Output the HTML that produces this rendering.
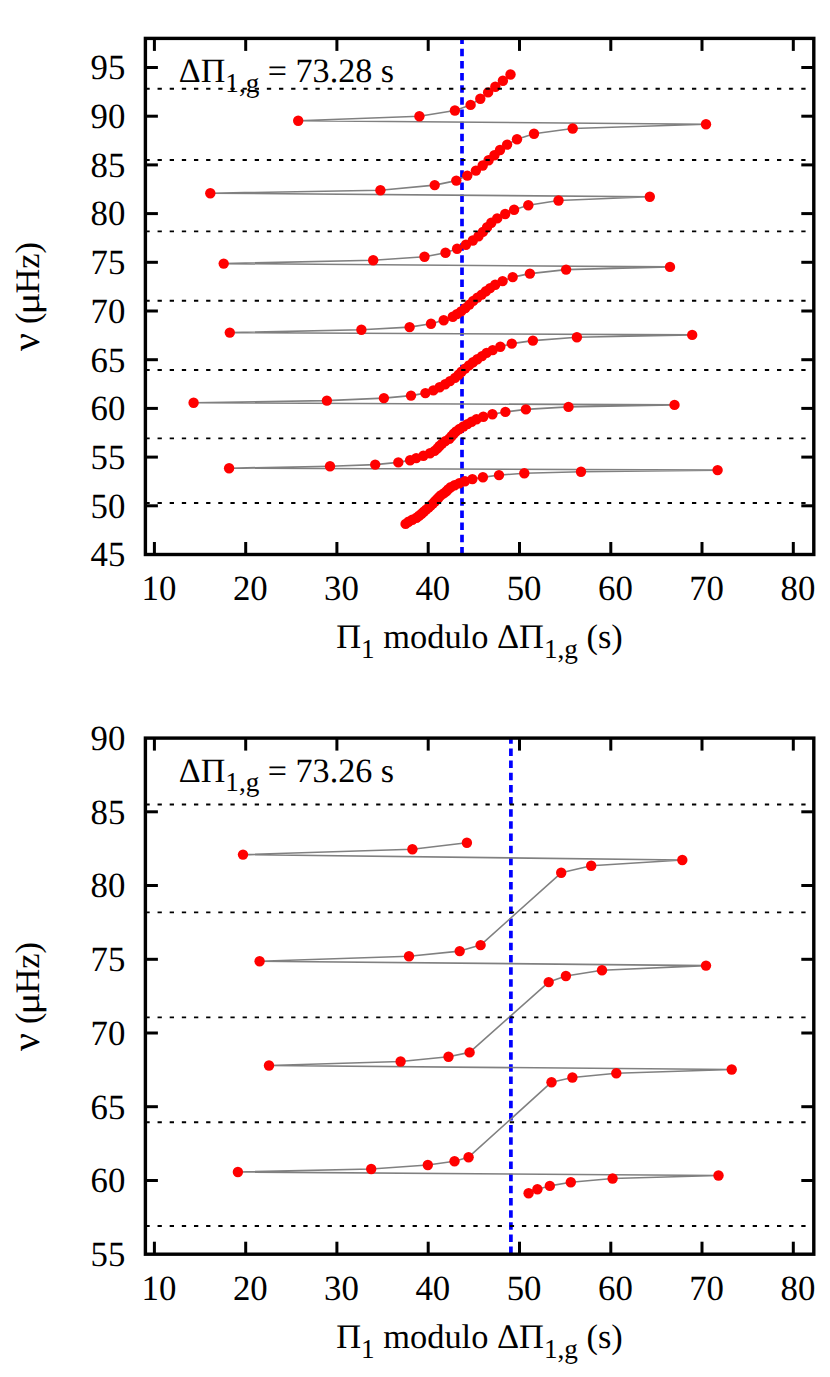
<!DOCTYPE html>
<html><head><meta charset="utf-8"><title>Period echelle diagrams</title>
<style>
html,body{margin:0;padding:0;background:#fff;}
body{width:830px;height:1377px;overflow:hidden;font-family:"Liberation Serif",serif;}
svg{display:block;}
text{font-family:"Liberation Serif",serif;fill:#000;text-rendering:geometricPrecision;}
.t{font-size:34.4px;}
.sub{font-size:27.2px;}
.k{font-size:34.8px;}
</style></head><body>
<svg width="830" height="1377" viewBox="0 0 830 1377">
<rect width="830" height="1377" fill="#fff"/>

<line x1="462.0" y1="38.4" x2="462.0" y2="554.5" stroke="#0000ff" stroke-width="3.7" stroke-dasharray="7.5 4.65" stroke-dashoffset="1.8"/>
<path d="M510.5,74.5 L502.9,80.8 L495.3,86.7 L488.1,92.4 L480.3,98.7 L470.6,104.9 L454.9,110.5 L419.4,116.2 L298.2,120.7 L706.0,124.2 L572.7,128.5 L534.0,133.8 L517.0,139.3 L507.1,144.6 L500.0,150.0 L494.4,155.2 L488.6,160.3 L482.7,165.5 L475.9,170.6 L467.3,175.6 L456.3,180.6 L434.7,185.1 L380.4,190.2 L210.3,193.2 L649.8,196.8 L558.5,200.5 L528.3,205.2 L514.1,209.8 L505.2,214.0 L497.2,218.4 L491.3,222.8 L487.1,227.2 L482.9,231.9 L478.5,236.3 L472.8,240.5 L465.9,244.8 L457.1,248.8 L445.5,252.8 L424.5,256.8 L373.2,260.2 L223.7,263.6 L670.0,266.9 L566.1,269.6 L529.9,273.6 L512.7,277.1 L502.6,281.1 L495.2,284.8 L490.1,288.1 L485.9,291.3 L481.7,294.6 L477.4,297.6 L473.2,300.9 L469.3,304.6 L465.3,308.1 L461.1,311.4 L456.9,314.1 L452.8,316.8 L443.7,320.2 L431.0,323.8 L409.6,327.1 L361.4,329.8 L229.8,332.6 L692.2,334.9 L576.9,337.3 L532.9,340.6 L511.8,343.6 L500.3,346.8 L492.7,350.1 L486.6,352.9 L482.0,356.1 L477.3,359.2 L473.0,362.3 L469.0,365.4 L465.1,368.6 L461.5,371.7 L458.6,374.8 L455.0,377.9 L450.0,381.1 L445.2,384.2 L439.6,387.3 L433.3,390.4 L425.4,393.1 L411.0,395.6 L383.9,398.1 L326.9,400.6 L193.6,402.8 L674.5,404.9 L568.5,406.9 L525.9,409.4 L505.4,411.9 L492.4,414.2 L483.3,416.8 L476.5,419.2 L471.6,421.7 L467.4,424.1 L463.4,426.5 L459.5,429.0 L456.1,431.4 L453.7,433.8 L451.5,436.3 L449.3,438.7 L445.3,441.1 L442.1,443.6 L439.5,446.0 L437.4,448.4 L434.6,450.9 L430.0,453.3 L423.4,455.7 L416.2,458.1 L410.1,460.3 L398.3,462.4 L375.2,464.6 L330.0,466.2 L229.1,468.2 L717.6,470.1 L581.0,471.8 L524.3,473.3 L499.0,475.1 L482.9,477.2 L472.4,479.1 L464.9,481.2 L459.3,483.3 L454.6,485.3 L450.7,487.3 L448.1,489.4 L446.3,491.4 L443.7,493.4 L440.7,495.4 L438.7,497.5 L436.8,499.5 L434.8,501.5 L432.8,503.6 L430.7,505.6 L428.5,507.6 L426.1,509.6 L423.8,511.7 L421.6,513.7 L419.1,515.7 L416.5,517.8 L412.3,519.8 L408.5,521.8 L405.6,523.9" fill="none" stroke="#808080" stroke-width="1.6" stroke-linejoin="round"/>
<circle cx="510.5" cy="74.5" r="5.2" fill="#ff0000"/>
<circle cx="502.9" cy="80.8" r="5.2" fill="#ff0000"/>
<circle cx="495.3" cy="86.7" r="5.2" fill="#ff0000"/>
<circle cx="488.1" cy="92.4" r="5.2" fill="#ff0000"/>
<circle cx="480.3" cy="98.7" r="5.2" fill="#ff0000"/>
<circle cx="470.6" cy="104.9" r="5.2" fill="#ff0000"/>
<circle cx="454.9" cy="110.5" r="5.2" fill="#ff0000"/>
<circle cx="419.4" cy="116.2" r="5.2" fill="#ff0000"/>
<circle cx="298.2" cy="120.7" r="5.2" fill="#ff0000"/>
<circle cx="706.0" cy="124.2" r="5.2" fill="#ff0000"/>
<circle cx="572.7" cy="128.5" r="5.2" fill="#ff0000"/>
<circle cx="534.0" cy="133.8" r="5.2" fill="#ff0000"/>
<circle cx="517.0" cy="139.3" r="5.2" fill="#ff0000"/>
<circle cx="507.1" cy="144.6" r="5.2" fill="#ff0000"/>
<circle cx="500.0" cy="150.0" r="5.2" fill="#ff0000"/>
<circle cx="494.4" cy="155.2" r="5.2" fill="#ff0000"/>
<circle cx="488.6" cy="160.3" r="5.2" fill="#ff0000"/>
<circle cx="482.7" cy="165.5" r="5.2" fill="#ff0000"/>
<circle cx="475.9" cy="170.6" r="5.2" fill="#ff0000"/>
<circle cx="467.3" cy="175.6" r="5.2" fill="#ff0000"/>
<circle cx="456.3" cy="180.6" r="5.2" fill="#ff0000"/>
<circle cx="434.7" cy="185.1" r="5.2" fill="#ff0000"/>
<circle cx="380.4" cy="190.2" r="5.2" fill="#ff0000"/>
<circle cx="210.3" cy="193.2" r="5.2" fill="#ff0000"/>
<circle cx="649.8" cy="196.8" r="5.2" fill="#ff0000"/>
<circle cx="558.5" cy="200.5" r="5.2" fill="#ff0000"/>
<circle cx="528.3" cy="205.2" r="5.2" fill="#ff0000"/>
<circle cx="514.1" cy="209.8" r="5.2" fill="#ff0000"/>
<circle cx="505.2" cy="214.0" r="5.2" fill="#ff0000"/>
<circle cx="497.2" cy="218.4" r="5.2" fill="#ff0000"/>
<circle cx="491.3" cy="222.8" r="5.2" fill="#ff0000"/>
<circle cx="487.1" cy="227.2" r="5.2" fill="#ff0000"/>
<circle cx="482.9" cy="231.9" r="5.2" fill="#ff0000"/>
<circle cx="478.5" cy="236.3" r="5.2" fill="#ff0000"/>
<circle cx="472.8" cy="240.5" r="5.2" fill="#ff0000"/>
<circle cx="465.9" cy="244.8" r="5.2" fill="#ff0000"/>
<circle cx="457.1" cy="248.8" r="5.2" fill="#ff0000"/>
<circle cx="445.5" cy="252.8" r="5.2" fill="#ff0000"/>
<circle cx="424.5" cy="256.8" r="5.2" fill="#ff0000"/>
<circle cx="373.2" cy="260.2" r="5.2" fill="#ff0000"/>
<circle cx="223.7" cy="263.6" r="5.2" fill="#ff0000"/>
<circle cx="670.0" cy="266.9" r="5.2" fill="#ff0000"/>
<circle cx="566.1" cy="269.6" r="5.2" fill="#ff0000"/>
<circle cx="529.9" cy="273.6" r="5.2" fill="#ff0000"/>
<circle cx="512.7" cy="277.1" r="5.2" fill="#ff0000"/>
<circle cx="502.6" cy="281.1" r="5.2" fill="#ff0000"/>
<circle cx="495.2" cy="284.8" r="5.2" fill="#ff0000"/>
<circle cx="490.1" cy="288.1" r="5.2" fill="#ff0000"/>
<circle cx="485.9" cy="291.3" r="5.2" fill="#ff0000"/>
<circle cx="481.7" cy="294.6" r="5.2" fill="#ff0000"/>
<circle cx="477.4" cy="297.6" r="5.2" fill="#ff0000"/>
<circle cx="473.2" cy="300.9" r="5.2" fill="#ff0000"/>
<circle cx="469.3" cy="304.6" r="5.2" fill="#ff0000"/>
<circle cx="465.3" cy="308.1" r="5.2" fill="#ff0000"/>
<circle cx="461.1" cy="311.4" r="5.2" fill="#ff0000"/>
<circle cx="456.9" cy="314.1" r="5.2" fill="#ff0000"/>
<circle cx="452.8" cy="316.8" r="5.2" fill="#ff0000"/>
<circle cx="443.7" cy="320.2" r="5.2" fill="#ff0000"/>
<circle cx="431.0" cy="323.8" r="5.2" fill="#ff0000"/>
<circle cx="409.6" cy="327.1" r="5.2" fill="#ff0000"/>
<circle cx="361.4" cy="329.8" r="5.2" fill="#ff0000"/>
<circle cx="229.8" cy="332.6" r="5.2" fill="#ff0000"/>
<circle cx="692.2" cy="334.9" r="5.2" fill="#ff0000"/>
<circle cx="576.9" cy="337.3" r="5.2" fill="#ff0000"/>
<circle cx="532.9" cy="340.6" r="5.2" fill="#ff0000"/>
<circle cx="511.8" cy="343.6" r="5.2" fill="#ff0000"/>
<circle cx="500.3" cy="346.8" r="5.2" fill="#ff0000"/>
<circle cx="492.7" cy="350.1" r="5.2" fill="#ff0000"/>
<circle cx="486.6" cy="352.9" r="5.2" fill="#ff0000"/>
<circle cx="482.0" cy="356.1" r="5.2" fill="#ff0000"/>
<circle cx="477.3" cy="359.2" r="5.2" fill="#ff0000"/>
<circle cx="473.0" cy="362.3" r="5.2" fill="#ff0000"/>
<circle cx="469.0" cy="365.4" r="5.2" fill="#ff0000"/>
<circle cx="465.1" cy="368.6" r="5.2" fill="#ff0000"/>
<circle cx="461.5" cy="371.7" r="5.2" fill="#ff0000"/>
<circle cx="458.6" cy="374.8" r="5.2" fill="#ff0000"/>
<circle cx="455.0" cy="377.9" r="5.2" fill="#ff0000"/>
<circle cx="450.0" cy="381.1" r="5.2" fill="#ff0000"/>
<circle cx="445.2" cy="384.2" r="5.2" fill="#ff0000"/>
<circle cx="439.6" cy="387.3" r="5.2" fill="#ff0000"/>
<circle cx="433.3" cy="390.4" r="5.2" fill="#ff0000"/>
<circle cx="425.4" cy="393.1" r="5.2" fill="#ff0000"/>
<circle cx="411.0" cy="395.6" r="5.2" fill="#ff0000"/>
<circle cx="383.9" cy="398.1" r="5.2" fill="#ff0000"/>
<circle cx="326.9" cy="400.6" r="5.2" fill="#ff0000"/>
<circle cx="193.6" cy="402.8" r="5.2" fill="#ff0000"/>
<circle cx="674.5" cy="404.9" r="5.2" fill="#ff0000"/>
<circle cx="568.5" cy="406.9" r="5.2" fill="#ff0000"/>
<circle cx="525.9" cy="409.4" r="5.2" fill="#ff0000"/>
<circle cx="505.4" cy="411.9" r="5.2" fill="#ff0000"/>
<circle cx="492.4" cy="414.2" r="5.2" fill="#ff0000"/>
<circle cx="483.3" cy="416.8" r="5.2" fill="#ff0000"/>
<circle cx="476.5" cy="419.2" r="5.2" fill="#ff0000"/>
<circle cx="471.6" cy="421.7" r="5.2" fill="#ff0000"/>
<circle cx="467.4" cy="424.1" r="5.2" fill="#ff0000"/>
<circle cx="463.4" cy="426.5" r="5.2" fill="#ff0000"/>
<circle cx="459.5" cy="429.0" r="5.2" fill="#ff0000"/>
<circle cx="456.1" cy="431.4" r="5.2" fill="#ff0000"/>
<circle cx="453.7" cy="433.8" r="5.2" fill="#ff0000"/>
<circle cx="451.5" cy="436.3" r="5.2" fill="#ff0000"/>
<circle cx="449.3" cy="438.7" r="5.2" fill="#ff0000"/>
<circle cx="445.3" cy="441.1" r="5.2" fill="#ff0000"/>
<circle cx="442.1" cy="443.6" r="5.2" fill="#ff0000"/>
<circle cx="439.5" cy="446.0" r="5.2" fill="#ff0000"/>
<circle cx="437.4" cy="448.4" r="5.2" fill="#ff0000"/>
<circle cx="434.6" cy="450.9" r="5.2" fill="#ff0000"/>
<circle cx="430.0" cy="453.3" r="5.2" fill="#ff0000"/>
<circle cx="423.4" cy="455.7" r="5.2" fill="#ff0000"/>
<circle cx="416.2" cy="458.1" r="5.2" fill="#ff0000"/>
<circle cx="410.1" cy="460.3" r="5.2" fill="#ff0000"/>
<circle cx="398.3" cy="462.4" r="5.2" fill="#ff0000"/>
<circle cx="375.2" cy="464.6" r="5.2" fill="#ff0000"/>
<circle cx="330.0" cy="466.2" r="5.2" fill="#ff0000"/>
<circle cx="229.1" cy="468.2" r="5.2" fill="#ff0000"/>
<circle cx="717.6" cy="470.1" r="5.2" fill="#ff0000"/>
<circle cx="581.0" cy="471.8" r="5.2" fill="#ff0000"/>
<circle cx="524.3" cy="473.3" r="5.2" fill="#ff0000"/>
<circle cx="499.0" cy="475.1" r="5.2" fill="#ff0000"/>
<circle cx="482.9" cy="477.2" r="5.2" fill="#ff0000"/>
<circle cx="472.4" cy="479.1" r="5.2" fill="#ff0000"/>
<circle cx="464.9" cy="481.2" r="5.2" fill="#ff0000"/>
<circle cx="459.3" cy="483.3" r="5.2" fill="#ff0000"/>
<circle cx="454.6" cy="485.3" r="5.2" fill="#ff0000"/>
<circle cx="450.7" cy="487.3" r="5.2" fill="#ff0000"/>
<circle cx="448.1" cy="489.4" r="5.2" fill="#ff0000"/>
<circle cx="446.3" cy="491.4" r="5.2" fill="#ff0000"/>
<circle cx="443.7" cy="493.4" r="5.2" fill="#ff0000"/>
<circle cx="440.7" cy="495.4" r="5.2" fill="#ff0000"/>
<circle cx="438.7" cy="497.5" r="5.2" fill="#ff0000"/>
<circle cx="436.8" cy="499.5" r="5.2" fill="#ff0000"/>
<circle cx="434.8" cy="501.5" r="5.2" fill="#ff0000"/>
<circle cx="432.8" cy="503.6" r="5.2" fill="#ff0000"/>
<circle cx="430.7" cy="505.6" r="5.2" fill="#ff0000"/>
<circle cx="428.5" cy="507.6" r="5.2" fill="#ff0000"/>
<circle cx="426.1" cy="509.6" r="5.2" fill="#ff0000"/>
<circle cx="423.8" cy="511.7" r="5.2" fill="#ff0000"/>
<circle cx="421.6" cy="513.7" r="5.2" fill="#ff0000"/>
<circle cx="419.1" cy="515.7" r="5.2" fill="#ff0000"/>
<circle cx="416.5" cy="517.8" r="5.2" fill="#ff0000"/>
<circle cx="412.3" cy="519.8" r="5.2" fill="#ff0000"/>
<circle cx="408.5" cy="521.8" r="5.2" fill="#ff0000"/>
<circle cx="405.6" cy="523.9" r="5.2" fill="#ff0000"/>
<line x1="145.4" y1="88.8" x2="813.8" y2="88.8" stroke="#000" stroke-width="1.9" stroke-dasharray="4.3 7.846"/>
<line x1="145.4" y1="160.0" x2="813.8" y2="160.0" stroke="#000" stroke-width="1.9" stroke-dasharray="4.3 7.846"/>
<line x1="145.4" y1="231.4" x2="813.8" y2="231.4" stroke="#000" stroke-width="1.9" stroke-dasharray="4.3 7.846"/>
<line x1="145.4" y1="300.8" x2="813.8" y2="300.8" stroke="#000" stroke-width="1.9" stroke-dasharray="4.3 7.846"/>
<line x1="145.4" y1="370.0" x2="813.8" y2="370.0" stroke="#000" stroke-width="1.9" stroke-dasharray="4.3 7.846"/>
<line x1="145.4" y1="438.4" x2="813.8" y2="438.4" stroke="#000" stroke-width="1.9" stroke-dasharray="4.3 7.846"/>
<line x1="145.4" y1="503.0" x2="813.8" y2="503.0" stroke="#000" stroke-width="1.9" stroke-dasharray="4.3 7.846"/>
<line x1="154.4" y1="38.4" x2="154.4" y2="50.9" stroke="#000" stroke-width="3.0"/>
<line x1="154.4" y1="554.5" x2="154.4" y2="542.0" stroke="#000" stroke-width="3.0"/>
<text class="k" transform="translate(159.0,600.3) scale(1,1.02)" text-anchor="middle">10</text>
<line x1="245.7" y1="38.4" x2="245.7" y2="50.9" stroke="#000" stroke-width="3.0"/>
<line x1="245.7" y1="554.5" x2="245.7" y2="542.0" stroke="#000" stroke-width="3.0"/>
<text class="k" transform="translate(250.3,600.3) scale(1,1.02)" text-anchor="middle">20</text>
<line x1="336.9" y1="38.4" x2="336.9" y2="50.9" stroke="#000" stroke-width="3.0"/>
<line x1="336.9" y1="554.5" x2="336.9" y2="542.0" stroke="#000" stroke-width="3.0"/>
<text class="k" transform="translate(341.5,600.3) scale(1,1.02)" text-anchor="middle">30</text>
<line x1="428.2" y1="38.4" x2="428.2" y2="50.9" stroke="#000" stroke-width="3.0"/>
<line x1="428.2" y1="554.5" x2="428.2" y2="542.0" stroke="#000" stroke-width="3.0"/>
<text class="k" transform="translate(432.8,600.3) scale(1,1.02)" text-anchor="middle">40</text>
<line x1="519.5" y1="38.4" x2="519.5" y2="50.9" stroke="#000" stroke-width="3.0"/>
<line x1="519.5" y1="554.5" x2="519.5" y2="542.0" stroke="#000" stroke-width="3.0"/>
<text class="k" transform="translate(524.1,600.3) scale(1,1.02)" text-anchor="middle">50</text>
<line x1="610.8" y1="38.4" x2="610.8" y2="50.9" stroke="#000" stroke-width="3.0"/>
<line x1="610.8" y1="554.5" x2="610.8" y2="542.0" stroke="#000" stroke-width="3.0"/>
<text class="k" transform="translate(615.4,600.3) scale(1,1.02)" text-anchor="middle">60</text>
<line x1="702.0" y1="38.4" x2="702.0" y2="50.9" stroke="#000" stroke-width="3.0"/>
<line x1="702.0" y1="554.5" x2="702.0" y2="542.0" stroke="#000" stroke-width="3.0"/>
<text class="k" transform="translate(706.6,600.3) scale(1,1.02)" text-anchor="middle">70</text>
<line x1="793.3" y1="38.4" x2="793.3" y2="50.9" stroke="#000" stroke-width="3.0"/>
<line x1="793.3" y1="554.5" x2="793.3" y2="542.0" stroke="#000" stroke-width="3.0"/>
<text class="k" transform="translate(797.9,600.3) scale(1,1.02)" text-anchor="middle">80</text>
<text class="k" transform="translate(125.4,566.3) scale(1,1.02)" text-anchor="end">45</text>
<line x1="145.4" y1="505.8" x2="157.9" y2="505.8" stroke="#000" stroke-width="3.0"/>
<line x1="813.8" y1="505.8" x2="801.3" y2="505.8" stroke="#000" stroke-width="3.0"/>
<text class="k" transform="translate(125.4,517.6) scale(1,1.02)" text-anchor="end">50</text>
<line x1="145.4" y1="457.1" x2="157.9" y2="457.1" stroke="#000" stroke-width="3.0"/>
<line x1="813.8" y1="457.1" x2="801.3" y2="457.1" stroke="#000" stroke-width="3.0"/>
<text class="k" transform="translate(125.4,468.9) scale(1,1.02)" text-anchor="end">55</text>
<line x1="145.4" y1="408.4" x2="157.9" y2="408.4" stroke="#000" stroke-width="3.0"/>
<line x1="813.8" y1="408.4" x2="801.3" y2="408.4" stroke="#000" stroke-width="3.0"/>
<text class="k" transform="translate(125.4,420.2) scale(1,1.02)" text-anchor="end">60</text>
<line x1="145.4" y1="359.7" x2="157.9" y2="359.7" stroke="#000" stroke-width="3.0"/>
<line x1="813.8" y1="359.7" x2="801.3" y2="359.7" stroke="#000" stroke-width="3.0"/>
<text class="k" transform="translate(125.4,371.5) scale(1,1.02)" text-anchor="end">65</text>
<line x1="145.4" y1="311.0" x2="157.9" y2="311.0" stroke="#000" stroke-width="3.0"/>
<line x1="813.8" y1="311.0" x2="801.3" y2="311.0" stroke="#000" stroke-width="3.0"/>
<text class="k" transform="translate(125.4,322.8) scale(1,1.02)" text-anchor="end">70</text>
<line x1="145.4" y1="262.3" x2="157.9" y2="262.3" stroke="#000" stroke-width="3.0"/>
<line x1="813.8" y1="262.3" x2="801.3" y2="262.3" stroke="#000" stroke-width="3.0"/>
<text class="k" transform="translate(125.4,274.1) scale(1,1.02)" text-anchor="end">75</text>
<line x1="145.4" y1="213.6" x2="157.9" y2="213.6" stroke="#000" stroke-width="3.0"/>
<line x1="813.8" y1="213.6" x2="801.3" y2="213.6" stroke="#000" stroke-width="3.0"/>
<text class="k" transform="translate(125.4,225.4) scale(1,1.02)" text-anchor="end">80</text>
<line x1="145.4" y1="164.9" x2="157.9" y2="164.9" stroke="#000" stroke-width="3.0"/>
<line x1="813.8" y1="164.9" x2="801.3" y2="164.9" stroke="#000" stroke-width="3.0"/>
<text class="k" transform="translate(125.4,176.7) scale(1,1.02)" text-anchor="end">85</text>
<line x1="145.4" y1="116.2" x2="157.9" y2="116.2" stroke="#000" stroke-width="3.0"/>
<line x1="813.8" y1="116.2" x2="801.3" y2="116.2" stroke="#000" stroke-width="3.0"/>
<text class="k" transform="translate(125.4,128.0) scale(1,1.02)" text-anchor="end">90</text>
<line x1="145.4" y1="67.5" x2="157.9" y2="67.5" stroke="#000" stroke-width="3.0"/>
<line x1="813.8" y1="67.5" x2="801.3" y2="67.5" stroke="#000" stroke-width="3.0"/>
<text class="k" transform="translate(125.4,79.3) scale(1,1.02)" text-anchor="end">95</text>
<rect x="145.4" y="38.4" width="668.4" height="516.1" fill="none" stroke="#000" stroke-width="3.4"/>
<text class="t" style="font-size:34.1px" x="178.8" y="82.0">ΔΠ<tspan class="sub" dy="9.5">1,g</tspan><tspan dy="-9.5"> = 73.28 s</tspan></text>
<text class="t" x="479.5" y="648" text-anchor="middle">Π<tspan class="sub" dy="9.5">1</tspan><tspan dy="-9.5"> modulo ΔΠ</tspan><tspan class="sub" dy="9.5">1,g</tspan><tspan dy="-9.5"> (s)</tspan></text>
<g transform="translate(38.7,351) rotate(-90)"><text x="0" y="0" style="font-size:39.5px">ν</text><text class="t" x="26.9" y="0">(</text><text class="t" transform="translate(36.2,0) scale(1.22,1)">μ</text><text class="t" x="57.4" y="0">Hz)</text></g>
<line x1="510.9" y1="738.1" x2="510.9" y2="1254.2" stroke="#0000ff" stroke-width="3.7" stroke-dasharray="7.5 4.65" stroke-dashoffset="1.8"/>
<path d="M466.9,842.8 L412.4,849.2 L243.0,854.6 L682.3,860.0 L591.2,865.7 L561.2,872.8 L480.6,945.1 L459.7,951.1 L409.0,956.2 L259.6,961.2 L706.0,965.6 L602.0,970.2 L565.9,976.0 L548.7,982.1 L469.6,1052.4 L448.5,1056.8 L400.6,1061.5 L269.0,1065.5 L731.7,1069.5 L616.3,1073.2 L572.4,1077.5 L551.5,1082.2 L468.6,1157.2 L454.5,1161.2 L427.8,1165.0 L371.2,1169.0 L237.9,1172.0 L718.5,1175.5 L612.6,1178.5 L570.8,1182.2 L549.8,1185.9 L537.4,1189.2 L528.6,1193.2" fill="none" stroke="#808080" stroke-width="1.6" stroke-linejoin="round"/>
<circle cx="466.9" cy="842.8" r="5.2" fill="#ff0000"/>
<circle cx="412.4" cy="849.2" r="5.2" fill="#ff0000"/>
<circle cx="243.0" cy="854.6" r="5.2" fill="#ff0000"/>
<circle cx="682.3" cy="860.0" r="5.2" fill="#ff0000"/>
<circle cx="591.2" cy="865.7" r="5.2" fill="#ff0000"/>
<circle cx="561.2" cy="872.8" r="5.2" fill="#ff0000"/>
<circle cx="480.6" cy="945.1" r="5.2" fill="#ff0000"/>
<circle cx="459.7" cy="951.1" r="5.2" fill="#ff0000"/>
<circle cx="409.0" cy="956.2" r="5.2" fill="#ff0000"/>
<circle cx="259.6" cy="961.2" r="5.2" fill="#ff0000"/>
<circle cx="706.0" cy="965.6" r="5.2" fill="#ff0000"/>
<circle cx="602.0" cy="970.2" r="5.2" fill="#ff0000"/>
<circle cx="565.9" cy="976.0" r="5.2" fill="#ff0000"/>
<circle cx="548.7" cy="982.1" r="5.2" fill="#ff0000"/>
<circle cx="469.6" cy="1052.4" r="5.2" fill="#ff0000"/>
<circle cx="448.5" cy="1056.8" r="5.2" fill="#ff0000"/>
<circle cx="400.6" cy="1061.5" r="5.2" fill="#ff0000"/>
<circle cx="269.0" cy="1065.5" r="5.2" fill="#ff0000"/>
<circle cx="731.7" cy="1069.5" r="5.2" fill="#ff0000"/>
<circle cx="616.3" cy="1073.2" r="5.2" fill="#ff0000"/>
<circle cx="572.4" cy="1077.5" r="5.2" fill="#ff0000"/>
<circle cx="551.5" cy="1082.2" r="5.2" fill="#ff0000"/>
<circle cx="468.6" cy="1157.2" r="5.2" fill="#ff0000"/>
<circle cx="454.5" cy="1161.2" r="5.2" fill="#ff0000"/>
<circle cx="427.8" cy="1165.0" r="5.2" fill="#ff0000"/>
<circle cx="371.2" cy="1169.0" r="5.2" fill="#ff0000"/>
<circle cx="237.9" cy="1172.0" r="5.2" fill="#ff0000"/>
<circle cx="718.5" cy="1175.5" r="5.2" fill="#ff0000"/>
<circle cx="612.6" cy="1178.5" r="5.2" fill="#ff0000"/>
<circle cx="570.8" cy="1182.2" r="5.2" fill="#ff0000"/>
<circle cx="549.8" cy="1185.9" r="5.2" fill="#ff0000"/>
<circle cx="537.4" cy="1189.2" r="5.2" fill="#ff0000"/>
<circle cx="528.6" cy="1193.2" r="5.2" fill="#ff0000"/>
<line x1="145.4" y1="804.5" x2="813.8" y2="804.5" stroke="#000" stroke-width="1.9" stroke-dasharray="4.3 7.846"/>
<line x1="145.4" y1="912.4" x2="813.8" y2="912.4" stroke="#000" stroke-width="1.9" stroke-dasharray="4.3 7.846"/>
<line x1="145.4" y1="1017.4" x2="813.8" y2="1017.4" stroke="#000" stroke-width="1.9" stroke-dasharray="4.3 7.846"/>
<line x1="145.4" y1="1122.2" x2="813.8" y2="1122.2" stroke="#000" stroke-width="1.9" stroke-dasharray="4.3 7.846"/>
<line x1="145.4" y1="1226.0" x2="813.8" y2="1226.0" stroke="#000" stroke-width="1.9" stroke-dasharray="4.3 7.846"/>
<line x1="154.4" y1="738.1" x2="154.4" y2="750.6" stroke="#000" stroke-width="3.0"/>
<line x1="154.4" y1="1254.2" x2="154.4" y2="1241.7" stroke="#000" stroke-width="3.0"/>
<text class="k" transform="translate(159.0,1300.0) scale(1,1.02)" text-anchor="middle">10</text>
<line x1="245.7" y1="738.1" x2="245.7" y2="750.6" stroke="#000" stroke-width="3.0"/>
<line x1="245.7" y1="1254.2" x2="245.7" y2="1241.7" stroke="#000" stroke-width="3.0"/>
<text class="k" transform="translate(250.3,1300.0) scale(1,1.02)" text-anchor="middle">20</text>
<line x1="336.9" y1="738.1" x2="336.9" y2="750.6" stroke="#000" stroke-width="3.0"/>
<line x1="336.9" y1="1254.2" x2="336.9" y2="1241.7" stroke="#000" stroke-width="3.0"/>
<text class="k" transform="translate(341.5,1300.0) scale(1,1.02)" text-anchor="middle">30</text>
<line x1="428.2" y1="738.1" x2="428.2" y2="750.6" stroke="#000" stroke-width="3.0"/>
<line x1="428.2" y1="1254.2" x2="428.2" y2="1241.7" stroke="#000" stroke-width="3.0"/>
<text class="k" transform="translate(432.8,1300.0) scale(1,1.02)" text-anchor="middle">40</text>
<line x1="519.5" y1="738.1" x2="519.5" y2="750.6" stroke="#000" stroke-width="3.0"/>
<line x1="519.5" y1="1254.2" x2="519.5" y2="1241.7" stroke="#000" stroke-width="3.0"/>
<text class="k" transform="translate(524.1,1300.0) scale(1,1.02)" text-anchor="middle">50</text>
<line x1="610.8" y1="738.1" x2="610.8" y2="750.6" stroke="#000" stroke-width="3.0"/>
<line x1="610.8" y1="1254.2" x2="610.8" y2="1241.7" stroke="#000" stroke-width="3.0"/>
<text class="k" transform="translate(615.4,1300.0) scale(1,1.02)" text-anchor="middle">60</text>
<line x1="702.0" y1="738.1" x2="702.0" y2="750.6" stroke="#000" stroke-width="3.0"/>
<line x1="702.0" y1="1254.2" x2="702.0" y2="1241.7" stroke="#000" stroke-width="3.0"/>
<text class="k" transform="translate(706.6,1300.0) scale(1,1.02)" text-anchor="middle">70</text>
<line x1="793.3" y1="738.1" x2="793.3" y2="750.6" stroke="#000" stroke-width="3.0"/>
<line x1="793.3" y1="1254.2" x2="793.3" y2="1241.7" stroke="#000" stroke-width="3.0"/>
<text class="k" transform="translate(797.9,1300.0) scale(1,1.02)" text-anchor="middle">80</text>
<text class="k" transform="translate(125.4,1266.0) scale(1,1.02)" text-anchor="end">55</text>
<line x1="145.4" y1="1180.5" x2="157.9" y2="1180.5" stroke="#000" stroke-width="3.0"/>
<line x1="813.8" y1="1180.5" x2="801.3" y2="1180.5" stroke="#000" stroke-width="3.0"/>
<text class="k" transform="translate(125.4,1192.3) scale(1,1.02)" text-anchor="end">60</text>
<line x1="145.4" y1="1106.7" x2="157.9" y2="1106.7" stroke="#000" stroke-width="3.0"/>
<line x1="813.8" y1="1106.7" x2="801.3" y2="1106.7" stroke="#000" stroke-width="3.0"/>
<text class="k" transform="translate(125.4,1118.5) scale(1,1.02)" text-anchor="end">65</text>
<line x1="145.4" y1="1033.0" x2="157.9" y2="1033.0" stroke="#000" stroke-width="3.0"/>
<line x1="813.8" y1="1033.0" x2="801.3" y2="1033.0" stroke="#000" stroke-width="3.0"/>
<text class="k" transform="translate(125.4,1044.8) scale(1,1.02)" text-anchor="end">70</text>
<line x1="145.4" y1="959.3" x2="157.9" y2="959.3" stroke="#000" stroke-width="3.0"/>
<line x1="813.8" y1="959.3" x2="801.3" y2="959.3" stroke="#000" stroke-width="3.0"/>
<text class="k" transform="translate(125.4,971.1) scale(1,1.02)" text-anchor="end">75</text>
<line x1="145.4" y1="885.5" x2="157.9" y2="885.5" stroke="#000" stroke-width="3.0"/>
<line x1="813.8" y1="885.5" x2="801.3" y2="885.5" stroke="#000" stroke-width="3.0"/>
<text class="k" transform="translate(125.4,897.3) scale(1,1.02)" text-anchor="end">80</text>
<line x1="145.4" y1="811.8" x2="157.9" y2="811.8" stroke="#000" stroke-width="3.0"/>
<line x1="813.8" y1="811.8" x2="801.3" y2="811.8" stroke="#000" stroke-width="3.0"/>
<text class="k" transform="translate(125.4,823.6) scale(1,1.02)" text-anchor="end">85</text>
<text class="k" transform="translate(125.4,749.9) scale(1,1.02)" text-anchor="end">90</text>
<rect x="145.4" y="738.1" width="668.4" height="516.1" fill="none" stroke="#000" stroke-width="3.4"/>
<text class="t" style="font-size:34.1px" x="178.8" y="781.7">ΔΠ<tspan class="sub" dy="9.5">1,g</tspan><tspan dy="-9.5"> = 73.26 s</tspan></text>
<text class="t" x="479.5" y="1348" text-anchor="middle">Π<tspan class="sub" dy="9.5">1</tspan><tspan dy="-9.5"> modulo ΔΠ</tspan><tspan class="sub" dy="9.5">1,g</tspan><tspan dy="-9.5"> (s)</tspan></text>
<g transform="translate(38.7,1051) rotate(-90)"><text x="0" y="0" style="font-size:39.5px">ν</text><text class="t" x="26.9" y="0">(</text><text class="t" transform="translate(36.2,0) scale(1.22,1)">μ</text><text class="t" x="57.4" y="0">Hz)</text></g>
</svg></body></html>
